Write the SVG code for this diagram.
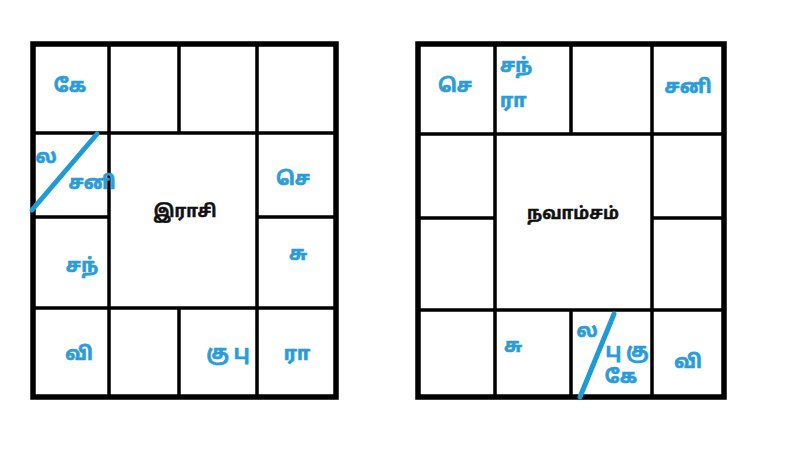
<svg xmlns="http://www.w3.org/2000/svg" width="800" height="450" viewBox="0 0 800 450">
<style>
.grid{fill:none;stroke:#000;stroke-width:3.5}
.outer{fill:none;stroke:#000;stroke-width:5.5}
.p{font-family:"Noto Sans Tamil","Noto Sans","DejaVu Sans",sans-serif;font-size:19px;font-weight:bold;fill:#2a9dd8;stroke:#2a9dd8;stroke-width:0.7;text-anchor:middle;dominant-baseline:central}
.t{font-family:"Noto Sans Tamil","Noto Sans","DejaVu Sans",sans-serif;font-size:17px;font-weight:bold;fill:#111;stroke:#111;stroke-width:0.5;text-anchor:middle;dominant-baseline:central}
.slash{stroke:#1e9ad6;stroke-width:5;stroke-linecap:round}
</style>
<rect width="800" height="450" fill="#fff"/>
<g id="rasi-chart">
<rect class="outer" x="33" y="44" width="303" height="353"/>
<path class="grid" d="M109 44V397M257 44V397M179 44V133M179 308V397M33 133H336M33 217H109M257 217H336M33 308H336"/>
</g>
<g id="navamsa-chart">
<rect class="outer" x="418" y="44" width="306" height="353"/>
<path class="grid" d="M495 44V397M652 44V397M571 44V134M571 310V397M418 134H724M418 218H495M652 218H724M418 310H724"/>
</g>
<g id="connectors">
<line class="slash" x1="97" y1="134" x2="32" y2="210"/>
<line class="slash" x1="614" y1="314" x2="580" y2="397"/>
</g>
<g id="rasi-title"><text class="t" x="185" y="212">இராசி</text></g>
<g id="rasi-house1"><text class="p" x="70" y="87">கே</text></g>
<g id="rasi-house-lagna"><text class="p" x="46" y="158">ல</text><text class="p" x="92" y="184">சனி</text></g>
<g id="rasi-house-mars"><text class="p" x="293" y="180">செ</text></g>
<g id="rasi-house-moon"><text class="p" x="82" y="267">சந்</text></g>
<g id="rasi-house-venus"><text class="p" x="298" y="255">சு</text></g>
<g id="rasi-house-mercury"><text class="p" x="79" y="355">வி</text></g>
<g id="rasi-house-jupiter"><text class="p" x="228" y="354">கு பு</text></g>
<g id="rasi-house-rahu"><text class="p" x="297" y="355">ரா</text></g>
<g id="nav-title"><text class="t" x="573" y="214">நவாம்சம்</text></g>
<g id="nav-house-mars"><text class="p" x="455" y="87">செ</text></g>
<g id="nav-house-moon"><text class="p" x="500" y="67" style="text-anchor:start">சந்</text><text class="p" x="500" y="102" style="text-anchor:start">ரா</text></g>
<g id="nav-house-saturn"><text class="p" x="688" y="88">சனி</text></g>
<g id="nav-house-venus"><text class="p" x="513" y="347">சு</text></g>
<g id="nav-house-lagna"><text class="p" x="587" y="332">ல</text><text class="p" x="627" y="352">பு கு</text><text class="p" x="621" y="378">கே</text></g>
<g id="nav-house-mercury"><text class="p" x="688" y="363">வி</text></g>
</svg>
